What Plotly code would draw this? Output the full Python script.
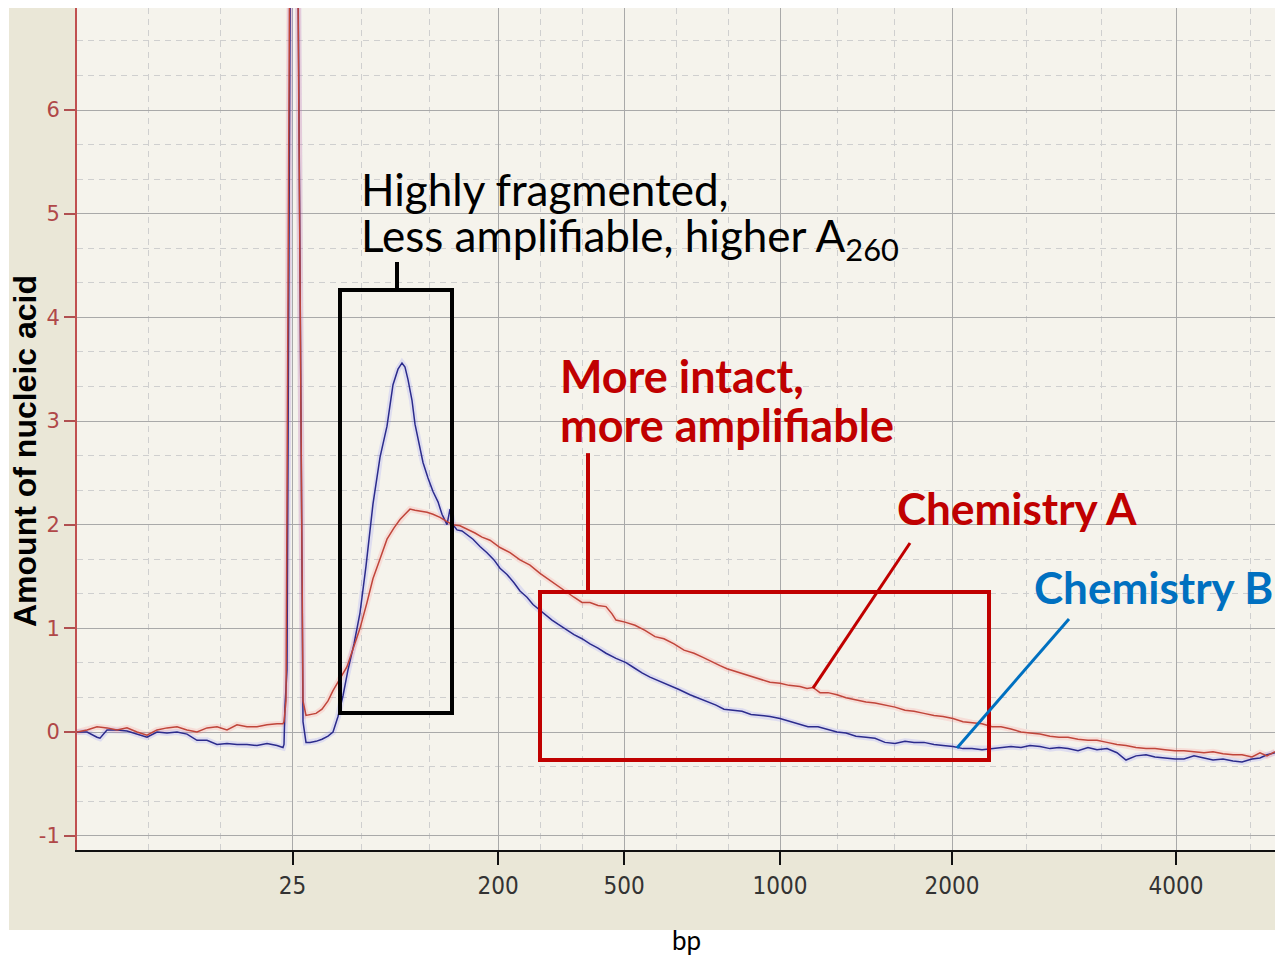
import plotly.graph_objects as go

# ---------------- data ----------------
# migration position (arbitrary time units) and signal for each chemistry
chem_a_time = [7.7, 8.7, 9.7, 10.7, 11.7, 12.7, 13.7, 14.7, 15.7, 16.7, 17.7, 18.7, 19.7, 20.7, 21.7, 22.7,
               23.7, 24.7, 25.7, 26.7, 27.7, 28.3, 28.4, 28.6, 29.3, 30.3, 30.6, 31.0, 31.6, 32.2, 32.8, 33.3,
               34.0, 34.7, 35.3, 36.0, 36.7, 37.3, 38.0, 38.7, 39.4, 40.0, 40.5, 41.0, 41.5, 42.0, 42.7, 43.3,
               44.0, 44.7, 45.3, 46.0, 46.7, 47.5, 48.2, 49.0, 50.0, 51.0, 52.0, 53.0, 54.0, 55.0, 55.6, 56.5,
               57.4, 58.2, 59.0, 59.8, 60.6, 61.2, 61.6, 62.5, 63.5, 64.5, 65.5, 66.4, 67.4, 68.4, 69.4, 70.3,
               71.3, 72.0, 72.7, 73.7, 74.8, 76.0, 77.0, 78.0, 78.9, 80.0, 80.7, 81.3, 82.0, 82.8, 83.7, 84.6,
               85.6, 86.6, 87.5, 88.5, 89.5, 90.5, 91.4, 92.4, 93.4, 94.3, 95.3, 96.3, 97.2, 98.2, 99.2, 100.1,
               101.1, 102.1, 103.0, 104.0, 105.0, 105.9, 106.8, 107.8, 108.8, 109.7, 110.7, 111.7, 112.6, 113.6,
               114.6, 115.5, 116.5, 117.5, 118.4, 119.4, 120.4, 121.3, 122.3, 123.3, 124.2, 125.2, 126.0, 126.7,
               127.5]
chem_a_signal = [0.0, 0.02, 0.05, 0.04, 0.02, 0.04, 0.0, -0.03, 0.02, 0.04, 0.05, 0.02, 0.0, 0.04, 0.05, 0.02,
                 0.07, 0.05, 0.05, 0.07, 0.08, 0.08, 0.1, 0.3, 14.0, 0.3, 0.16, 0.17, 0.18, 0.22, 0.3, 0.4,
                 0.52, 0.63, 0.8, 1.0, 1.25, 1.48, 1.67, 1.86, 1.97, 2.05, 2.1, 2.15, 2.14, 2.13, 2.12, 2.1,
                 2.07, 2.03, 2.0, 1.99, 1.96, 1.92, 1.88, 1.85, 1.78, 1.73, 1.66, 1.61, 1.53, 1.46, 1.42, 1.36,
                 1.3, 1.25, 1.25, 1.22, 1.21, 1.14, 1.08, 1.06, 1.03, 0.98, 0.92, 0.9, 0.85, 0.79, 0.76, 0.72,
                 0.67, 0.64, 0.61, 0.58, 0.54, 0.51, 0.48, 0.47, 0.45, 0.44, 0.42, 0.43, 0.38, 0.38, 0.36, 0.33,
                 0.31, 0.29, 0.28, 0.26, 0.24, 0.21, 0.2, 0.18, 0.16, 0.15, 0.13, 0.1, 0.09, 0.08, 0.05, 0.05,
                 0.03, 0.0, -0.01, -0.02, -0.04, -0.05, -0.05, -0.07, -0.08, -0.08, -0.1, -0.12, -0.13, -0.15,
                 -0.16, -0.16, -0.17, -0.18, -0.18, -0.19, -0.2, -0.19, -0.21, -0.22, -0.22, -0.24, -0.2, -0.23,
                 -0.19]

chem_b_time = [7.7, 8.7, 9.7, 10.0, 10.7, 11.7, 12.7, 13.7, 14.7, 15.7, 16.7, 17.7, 18.7, 19.7, 20.7, 21.7,
               22.7, 23.7, 24.7, 25.7, 26.7, 27.7, 28.3, 28.4, 28.5, 28.7, 29.35, 30.3, 30.6, 31.0, 31.6, 32.2,
               32.8, 33.3, 33.8, 34.3, 34.8, 35.4, 36.0, 36.6, 37.3, 38.0, 38.7, 39.3, 39.8, 40.2, 40.5, 40.8,
               41.2, 41.5, 41.9, 42.3, 42.8, 43.3, 43.8, 44.2, 44.7, 45.0, 45.3, 45.7, 46.2, 46.7, 47.3, 48.0,
               48.7, 49.4, 50.0, 50.7, 51.4, 52.0, 52.7, 53.3, 53.9, 54.5, 55.2, 55.8, 56.6, 57.4, 58.2, 59.0,
               59.8, 60.6, 61.6, 62.6, 63.4, 64.2, 65.0, 66.0, 66.9, 67.9, 69.0, 69.8, 70.8, 71.6, 72.4, 73.2,
               74.2, 75.1, 76.0, 77.0, 78.0, 79.0, 79.9, 80.8, 81.8, 82.8, 83.7, 84.6, 85.6, 86.6, 87.5, 88.5,
               89.5, 90.5, 91.4, 92.4, 93.4, 94.3, 95.3, 96.3, 97.2, 98.2, 99.2, 100.1, 101.1, 102.1, 103.0,
               104.0, 105.0, 105.9, 106.8, 107.8, 108.8, 109.7, 110.7, 111.7, 112.6, 113.6, 114.6, 115.5, 116.5,
               117.5, 118.4, 119.4, 120.4, 121.3, 122.3, 123.3, 124.2, 125.2, 126.0, 126.7, 127.5]
chem_b_signal = [0.0, 0.0, -0.05, -0.06, 0.02, 0.02, 0.01, -0.02, -0.05, 0.0, -0.01, 0.0, -0.02, -0.08, -0.08,
                 -0.12, -0.11, -0.12, -0.12, -0.13, -0.11, -0.13, -0.15, -0.12, 0.25, 0.6, 14.0, 0.1, -0.1, -0.1,
                 -0.09, -0.07, -0.04, 0.0, 0.15, 0.35, 0.6, 0.85, 1.15, 1.6, 2.2, 2.65, 2.95, 3.35, 3.5, 3.56,
                 3.52, 3.4, 3.2, 2.97, 2.78, 2.6, 2.45, 2.32, 2.22, 2.1, 2.0, 2.15, 2.0, 1.95, 1.94, 1.9, 1.86,
                 1.79, 1.73, 1.66, 1.58, 1.52, 1.44, 1.36, 1.3, 1.23, 1.18, 1.13, 1.08, 1.04, 0.99, 0.94, 0.9,
                 0.85, 0.81, 0.76, 0.71, 0.67, 0.62, 0.57, 0.53, 0.49, 0.45, 0.41, 0.36, 0.33, 0.29, 0.26, 0.22,
                 0.21, 0.2, 0.17, 0.16, 0.15, 0.13, 0.1, 0.08, 0.05, 0.05, 0.02, 0.0, -0.01, -0.04, -0.05, -0.06,
                 -0.1, -0.11, -0.09, -0.1, -0.1, -0.12, -0.13, -0.14, -0.16, -0.16, -0.17, -0.16, -0.15, -0.14,
                 -0.15, -0.13, -0.14, -0.16, -0.15, -0.16, -0.18, -0.15, -0.17, -0.16, -0.2, -0.27, -0.23, -0.22,
                 -0.24, -0.25, -0.26, -0.26, -0.23, -0.25, -0.27, -0.26, -0.28, -0.29, -0.26, -0.25, -0.22, -0.2]

# ladder (bp) tick positions on the migration axis
ladder_pos = [29.25, 49.8, 62.4, 78.0, 95.2, 117.6]
ladder_bp = ["25", "200", "500", "1000", "2000", "4000"]
y_ticks = [-1, 0, 1, 2, 3, 4, 5, 6]
y_tick_text = ["-1", "0", "1", "2", "3", "4", "5", "6"]

X_RANGE = [7.7, 127.5]
Y_RANGE = [-1.138, 6.984]

RED = "#C00000"
BLUE = "#0070C0"
LINE_A = "#C0453A"
LINE_B = "#2B2B8C"

# minor grid positions: thirds between majors
edges = [X_RANGE[0]] + ladder_pos
x_minor = []
for a, b in zip(edges[:-1], edges[1:]):
    x_minor += [a + (b - a) / 3, a + 2 * (b - a) / 3]
step = (ladder_pos[-1] - ladder_pos[-2]) / 3
x_minor.append(ladder_pos[-1] + step)
y_minor = []
for v in range(-2, 7):
    y_minor += [v + 1 / 3, v + 2 / 3]

fig = go.Figure()

# soft halos
fig.add_trace(go.Scatter(x=chem_b_time, y=chem_b_signal, mode="lines",
                         line=dict(color="rgba(120,120,255,0.18)", width=6), hoverinfo="skip", showlegend=False))
fig.add_trace(go.Scatter(x=chem_a_time, y=chem_a_signal, mode="lines",
                         line=dict(color="rgba(255,120,120,0.18)", width=6), hoverinfo="skip", showlegend=False))
fig.add_trace(go.Scatter(x=chem_b_time, y=chem_b_signal, mode="lines", name="Chemistry B",
                         line=dict(color=LINE_B, width=1.5), showlegend=False))
fig.add_trace(go.Scatter(x=chem_a_time, y=chem_a_signal, mode="lines", name="Chemistry A",
                         line=dict(color=LINE_A, width=1.5), showlegend=False))

W, H = 1275, 958
ML, MR, MT, MB = 77, 0, 8, 108
PW, PH = W - ML - MR, H - MT - MB


def px_x(px):
    return (px - ML) / PW


def px_y(py):
    return (H - MB - py) / PH


shapes = [
    # beige outer panel
    dict(type="rect", xref="paper", yref="paper", x0=px_x(9), x1=px_x(1275), y0=px_y(930), y1=px_y(8),
         fillcolor="#EAE7D7", line=dict(width=0), layer="below"),
    # lighter plotting area
    dict(type="rect", xref="paper", yref="paper", x0=0, x1=1, y0=0, y1=1,
         fillcolor="#F5F3EC", line=dict(width=0), layer="below"),
    # fragmented box + connector
    dict(type="rect", xref="x", yref="y", x0=34.0, x1=45.2, y0=0.183, y1=4.264,
         line=dict(color="black", width=4)),
    dict(type="line", xref="x", yref="y", x0=39.7, x1=39.7, y0=4.264, y1=4.534,
         line=dict(color="black", width=4)),
    # intact box + connector
    dict(type="rect", xref="x", yref="y", x0=54.0, x1=98.9, y0=-0.27, y1=1.35,
         line=dict(color=RED, width=4)),
    dict(type="line", xref="x", yref="y", x0=58.8, x1=58.8, y0=1.35, y1=2.69,
         line=dict(color=RED, width=4)),
    # pointers
    dict(type="line", xref="x", yref="y", x0=91.0, y0=1.823, x1=81.3, y1=0.424,
         line=dict(color=RED, width=3)),
    dict(type="line", xref="x", yref="y", x0=106.9, y0=1.09, x1=95.7, y1=-0.154,
         line=dict(color=BLUE, width=3)),
]

TXT = "Lato, 'Open Sans', sans-serif"
annotations = [
    dict(x=35.9, y=5.24, xref="x", yref="y", text="Highly fragmented,", showarrow=False,
         xanchor="left", yanchor="middle", font=dict(family=TXT, size=44, color="black")),
    dict(x=35.9, y=4.76, xref="x", yref="y", text="Less amplifiable, higher A<sub>260</sub>", showarrow=False,
         xanchor="left", yanchor="middle", font=dict(family=TXT, size=44, color="black")),
    dict(x=55.8, y=3.43, xref="x", yref="y", text="<b>More intact,</b>", showarrow=False,
         xanchor="left", yanchor="middle", font=dict(family=TXT, size=45, color=RED)),
    dict(x=55.8, y=2.96, xref="x", yref="y", text="<b>more amplifiable</b>", showarrow=False,
         xanchor="left", yanchor="middle", font=dict(family=TXT, size=45, color=RED)),
    dict(x=89.5, y=2.16, xref="x", yref="y", text="<b>Chemistry A</b>", showarrow=False,
         xanchor="left", yanchor="middle", font=dict(family=TXT, size=44, color=RED)),
    dict(x=103.2, y=1.40, xref="x", yref="y", text="<b>Chemistry B</b>", showarrow=False,
         xanchor="left", yanchor="middle", font=dict(family=TXT, size=44, color=BLUE)),
    dict(x=px_x(25), y=px_y(451), xref="paper", yref="paper", text="<b>Amount of nucleic acid</b>",
         textangle=-90, showarrow=False, xanchor="center", yanchor="middle",
         font=dict(family="Liberation Sans, Arial, sans-serif", size=32, color="black")),
    dict(x=px_x(686), y=px_y(940), xref="paper", yref="paper", text="bp", showarrow=False,
         xanchor="center", yanchor="middle", font=dict(family=TXT, size=26, color="black")),
]

fig.update_layout(
    width=W, height=H,
    margin=dict(l=ML, r=MR, t=MT, b=MB, pad=0),
    paper_bgcolor="white",
    plot_bgcolor="#F5F3EC",
    shapes=shapes,
    annotations=annotations,
    showlegend=False,
    xaxis=dict(
        range=X_RANGE, tickmode="array", tickvals=ladder_pos, ticktext=ladder_bp,
        showgrid=True, gridcolor="#A9A9A9", gridwidth=1,
        ticks="outside", ticklen=13, tickwidth=2, tickcolor="#111",
        showline=True, linecolor="#111", linewidth=2, zeroline=False,
        tickfont=dict(family="'Liberation Sans Narrow', 'DejaVu Sans Condensed', 'Arial Narrow', sans-serif",
                      size=24, color="#333"),
        minor=dict(tickmode="array", tickvals=x_minor, showgrid=True, gridcolor="#CFCFCF",
                   griddash="6px,5px", gridwidth=1, ticks=""),
    ),
    yaxis=dict(
        range=Y_RANGE, tickmode="array", tickvals=y_ticks, ticktext=y_tick_text,
        showgrid=True, gridcolor="#A9A9A9", gridwidth=1,
        ticks="outside", ticklen=11, tickwidth=1.5, tickcolor="#B05050",
        showline=True, linecolor="#C05050", linewidth=2, zeroline=False,
        tickfont=dict(family="'DejaVu Sans', Verdana, sans-serif", size=21, color="#B04848"),
        minor=dict(tickmode="array", tickvals=y_minor, showgrid=True, gridcolor="#CFCFCF",
                   griddash="6px,5px", gridwidth=1, ticks=""),
    ),
)

fig.write_html("out.html")
